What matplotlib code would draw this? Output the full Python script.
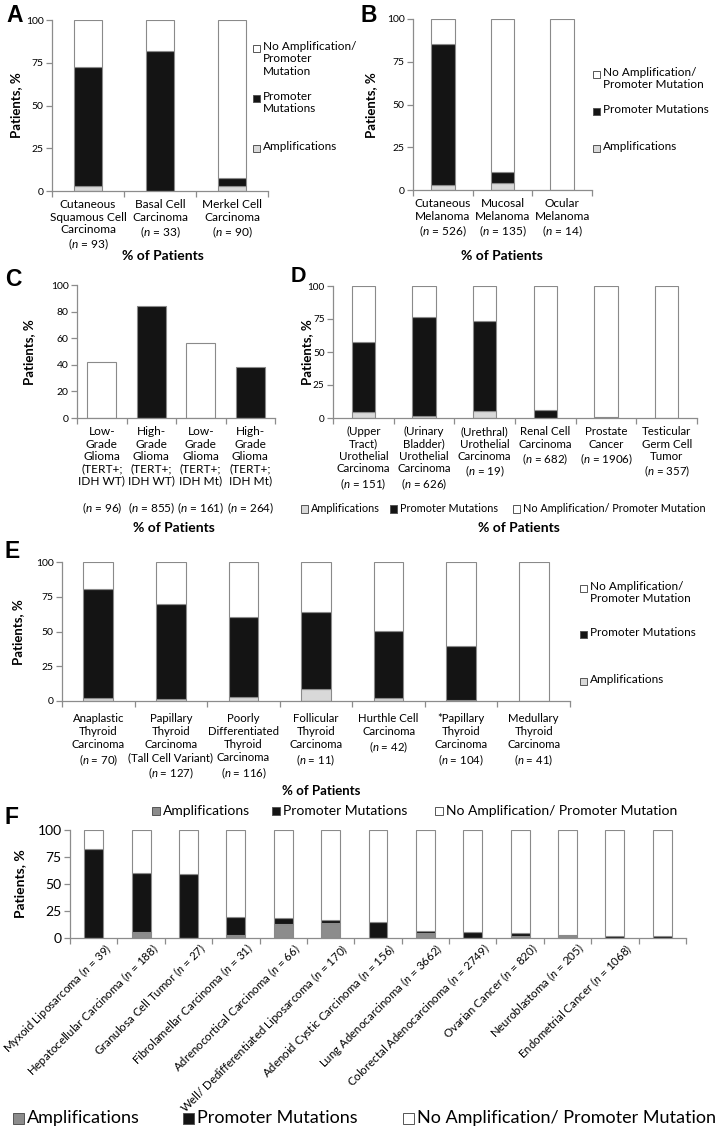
import numpy as np
import matplotlib
matplotlib.use('Agg')
import matplotlib.pyplot as plt
from matplotlib.patches import Rectangle
from matplotlib.transforms import ScaledTranslation

plt.rcParams['font.family'] = ['Lato', 'DejaVu Sans']
plt.rcParams['mathtext.fontset'] = 'custom'
plt.rcParams['mathtext.rm'] = 'Lato'
plt.rcParams['mathtext.it'] = 'Lato:italic'

W, H = 727, 1129
AMP = '#d9d9d9'
AMP_F = '#8c8c8c'
PROM = '#141414'
EDGE = '#8a8a8a'
SPINE = '#8c8c8c'


def n(k):
    return r'($\mathit{n}$ = %s)' % k


# --- data (percent of patients) ---
a_labels = ['Cutaneous\nSquamous Cell\nCarcinoma\n' + n(93),
            'Basal Cell\nCarcinoma\n' + n(33),
            'Merkel Cell\nCarcinoma\n' + n(90)]
a_amp = [2.9, 0, 2.9]
a_prom = [69.5, 82.1, 4.9]

b_labels = ['Cutaneous\nMelanoma\n' + n(526),
            'Mucosal\nMelanoma\n' + n(135),
            'Ocular\nMelanoma\n' + n(14)]
b_amp = [2.9, 4.3, 0]
b_prom = [82.3, 6.2, 0]

c_labels = ['Low-\nGrade\nGlioma\n(TERT+;\nIDH WT)',
            'High-\nGrade\nGlioma\n(TERT+;\nIDH WT)',
            'Low-\nGrade\nGlioma\n(TERT+;\nIDH Mt)',
            'High-\nGrade\nGlioma\n(TERT+;\nIDH Mt)']
c_n = [96, 855, 161, 264]
c_values = [42, 84.3, 56.2, 38.3]
c_colors = ['white', PROM, 'white', PROM]

d_labels = ['(Upper\nTract)\nUrothelial\nCarcinoma\n' + n(151),
            '(Urinary\nBladder)\nUrothelial\nCarcinoma\n' + n(626),
            '(Urethral)\nUrothelial\nCarcinoma\n' + n(19),
            'Renal Cell\nCarcinoma\n' + n(682),
            'Prostate\nCancer\n' + n(1906),
            'Testicular\nGerm Cell\nTumor\n' + n(357)]
d_amp = [4.5, 1.8, 5.0, 0, 0, 0]
d_prom = [53.0, 74.7, 68.8, 6.0, 0.8, 0]

e_labels = ['Anaplastic\nThyroid\nCarcinoma\n' + n(70),
            'Papillary\nThyroid\nCarcinoma\n(Tall Cell Variant)\n' + n(127),
            'Poorly\nDifferentiated\nThyroid\nCarcinoma\n' + n(116),
            'Follicular\nThyroid\nCarcinoma\n' + n(11),
            'Hurthle Cell\nCarcinoma\n' + n(42),
            '*Papillary\nThyroid\nCarcinoma\n' + n(104),
            'Medullary\nThyroid\nCarcinoma\n' + n(41)]
e_amp = [2.4, 1.2, 2.9, 8.7, 1.9, 0.5, 0]
e_prom = [77.9, 68.3, 57.7, 55.3, 48.3, 39.2, 0]

f_labels = ['Myxoid Liposarcoma ' + n(39),
            'Hepatocellular Carcinoma ' + n(188),
            'Granulosa Cell Tumor ' + n(27),
            'Fibrolamellar Carcinoma ' + n(31),
            'Adrenocortical Carcinoma ' + n(66),
            'Well/ Dedifferentiated Liposarcoma ' + n(170),
            'Adenoid Cystic Carcinoma ' + n(156),
            'Lung Adenocarcinoma ' + n(3662),
            'Colorectal Adenocarcinoma ' + n(2749),
            'Ovarian Cancer ' + n(820),
            'Neuroblastoma ' + n(205),
            'Endometrial Cancer ' + n(1068),
            '']
f_amp = [0, 5.6, 0, 2.5, 13.0, 13.6, 0, 4.3, 0, 1.5, 1.8, 0, 0]
f_prom = [82.4, 54.2, 59.1, 17.0, 5.3, 2.8, 15.2, 2.5, 5.3, 3.5, 1.3, 2.2, 1.5]

LEG_NONE = 'No Amplification/ Promoter Mutation'

fig = plt.figure(figsize=(W / 100, H / 100), dpi=100)


def add_ax(l, t, r, b):
    return fig.add_axes([l / W, 1 - b / H, (r - l) / W, (b - t) / H])


def ftext(x, y, s, **kw):
    return fig.text(x / W, 1 - y / H, s, **kw)


def legend_item(x, y, label, color, fs=8.5, sq=7, va='top'):
    fpx = fs * 100 / 72
    yc = y + 0.62 * fpx if va == 'top' else y
    fig.patches.append(Rectangle((x / W, 1 - (yc + sq / 2) / H), sq / W, sq / H,
                                 transform=fig.transFigure, facecolor=color,
                                 edgecolor='#555555', lw=0.7))
    ftext(x + sq + 3, y, label, fontsize=fs, va=va, ha='left', linespacing=1.15)


def style(ax, labels, ymax=100, step=25, ysize=7.5, xsize=8.6, rot=0, lsp=1.15,
          pad=6):
    k = len(labels)
    ax.set_xlim(-0.5, k - 0.5)
    ax.set_ylim(0, ymax)
    ax.set_yticks(np.arange(0, ymax + 1, step))
    ax.set_xticks(np.arange(k + 1) - 0.5)
    ax.set_xticklabels([])
    ax.set_xticks(np.arange(k), minor=True)
    if rot:
        ax.set_xticklabels(labels, minor=True, rotation=rot, ha='right',
                           rotation_mode='anchor', fontsize=xsize)
    else:
        ax.set_xticklabels(labels, minor=True, va='top', fontsize=xsize,
                           linespacing=lsp)
    for s in ['top', 'right']:
        ax.spines[s].set_visible(False)
    for s in ['left', 'bottom']:
        ax.spines[s].set_color(SPINE)
        ax.spines[s].set_linewidth(0.9)
    ax.tick_params(axis='x', which='major', length=4, color=SPINE, width=0.9)
    ax.tick_params(axis='x', which='minor', length=0, pad=pad)
    ax.tick_params(axis='y', length=4, color=SPINE, width=0.9, labelsize=ysize,
                   pad=2)


def stacked(ax, amp, prom, width, amp_color=AMP):
    x = np.arange(len(amp))
    amp = np.array(amp)
    prom = np.array(prom)
    rest = 100 - amp - prom
    kw = dict(width=width, edgecolor=EDGE, linewidth=0.8)
    ax.bar(x, amp, color=amp_color, **kw)
    ax.bar(x, prom, bottom=amp, color=PROM, **kw)
    ax.bar(x, rest, bottom=amp + prom, color='white', **kw)


def ylab(x, y, fs=9.5):
    ftext(x, y, 'Patients, %', rotation=90, ha='center', va='center',
          fontsize=fs, fontweight='bold')


def xlab(x, y, fs=10):
    ftext(x, y, '% of Patients', ha='center', va='center', fontsize=fs,
          fontweight='bold')


def letter(x, y, s, fs=16.5):
    ftext(x, y, s, ha='left', va='top', fontsize=fs, fontweight='bold',
          family=['Liberation Sans', 'DejaVu Sans'])


# --- A ---
ax = add_ax(52, 20, 268, 191)
stacked(ax, a_amp, a_prom, 0.39)
style(ax, a_labels)
letter(6, 4, 'A')
ylab(16, 105)
xlab(163, 256)
legend_item(253, 41, 'No Amplification/\nPromoter\nMutation', 'white')
legend_item(253, 91, 'Promoter\nMutations', PROM)
legend_item(253, 141, 'Amplifications', AMP)

# --- B ---
ax = add_ax(413, 19, 592, 190)
stacked(ax, b_amp, b_prom, 0.40)
style(ax, b_labels)
letter(361, 4, 'B')
ylab(371, 105)
xlab(502, 256)
legend_item(593, 67, 'No Amplification/\nPromoter Mutation', 'white')
legend_item(593, 104, 'Promoter Mutations', PROM)
legend_item(593, 141, 'Amplifications', AMP)

# --- C ---
ax = add_ax(77, 285, 275, 418)
ax.bar(np.arange(len(c_values)), c_values, width=0.58, color=c_colors,
       edgecolor=EDGE, linewidth=0.8)
style(ax, c_labels, step=20)
for i, k in enumerate(c_n):
    ax.text(i, -0.68, n(k), transform=ax.get_xaxis_transform(), ha='center',
            va='center', fontsize=8.5)
letter(5, 268, 'C')
ylab(29, 352)
xlab(174, 528)

# --- D ---
ax = add_ax(333, 286, 697, 418)
stacked(ax, d_amp, d_prom, 0.38)
style(ax, d_labels, xsize=8.3, ysize=7.2)
letter(291, 266, 'D', fs=15.5)
ylab(307, 352)
xlab(519, 528)
legend_item(301, 509, 'Amplifications', AMP, fs=7.8, va='center')
legend_item(390, 509, 'Promoter Mutations', PROM, fs=7.8, va='center')
legend_item(513, 509, LEG_NONE, 'white', fs=7.8, va='center')

# --- E ---
ax = add_ax(62, 562, 570, 701)
stacked(ax, e_amp, e_prom, 0.41)
style(ax, e_labels, xsize=8.2, lsp=1.2, pad=9)
letter(5, 540, 'E')
ylab(18, 632)
xlab(321, 791, fs=9.5)
legend_item(580, 581, 'No Amplification/\nPromoter Mutation', 'white')
legend_item(580, 627, 'Promoter Mutations', PROM)
legend_item(580, 674, 'Amplifications', AMP)

# --- F ---
ax = add_ax(70, 830, 686, 938)
stacked(ax, f_amp, f_prom, 0.40, amp_color=AMP_F)
style(ax, f_labels, ysize=10, xsize=8.3, rot=45)
ax.tick_params(axis='x', which='minor', pad=2)
shift = ScaledTranslation(7 / 72, 0, fig.dpi_scale_trans)
for lbl in ax.get_xticklabels(minor=True):
    lbl.set_transform(lbl.get_transform() + shift)
letter(5, 806, 'F')
ylab(20, 884, fs=10)
legend_item(152, 811, 'Amplifications', AMP_F, fs=10, sq=8, va='center')
legend_item(272, 811, 'Promoter Mutations', PROM, fs=10, sq=8, va='center')
legend_item(435, 811, LEG_NONE, 'white', fs=10, sq=8, va='center')

# --- shared legend at bottom ---
legend_item(13, 1118, 'Amplifications', AMP_F, fs=13, sq=11, va='center')
legend_item(183, 1118, 'Promoter Mutations', PROM, fs=13, sq=11, va='center')
legend_item(403, 1118, LEG_NONE, 'white', fs=13, sq=11, va='center')

fig.savefig('out.png', dpi=100)
